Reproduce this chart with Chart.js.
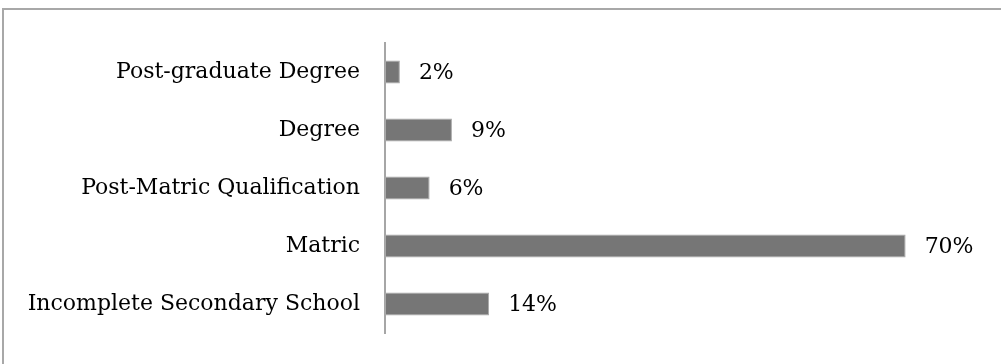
<!DOCTYPE html>
<html>
<head>
<meta charset="utf-8">
<script src="https://cdn.jsdelivr.net/npm/chart.js@4/dist/chart.umd.min.js"></script>
<style>
  html, body { margin: 0; padding: 0; background: #fff; }
  #wrap { position: relative; width: 1001px; height: 364px; overflow: hidden; }
  #frame { position: absolute; left: 2px; top: 8px; width: 1100px; height: 500px;
           border-top: 2px solid #a8a8a8; border-left: 2px solid #a8a8a8; box-sizing: border-box; }
  canvas { position: absolute; left: 0; top: 0; }
</style>
</head>
<body>
<div id="wrap">
  <div id="frame"></div>
  <canvas id="eduChart" width="1001" height="364"></canvas>
</div>
<script>
// education levels, top to bottom
const levels = [
  'Post-graduate Degree',
  'Degree',
  'Post-Matric Qualification',
  'Matric',
  'Incomplete Secondary School'
];
const shares = [2, 9, 6, 70, 14];
const shareLabels = ['2%', '9%', '6%', '70%', '14%'];

const FONT = "'DejaVu Serif', serif";

// writes the percentage just past the end of each bar
const valueLabels = {
  id: 'valueLabels',
  afterDatasetsDraw(chart) {
    const c = chart.ctx;
    const meta = chart.getDatasetMeta(0);
    c.save();
    c.font = '22px ' + FONT;
    c.fillStyle = '#000';
    c.textBaseline = 'middle';
    c.textAlign = 'left';
    meta.data.forEach((bar, i) => {
      c.fillText(shareLabels[i], bar.x + 19, bar.y + 1);
    });
    c.restore();
  }
};

const ctx = document.getElementById('eduChart').getContext('2d');
const chart = new Chart(ctx, {
  type: 'bar',
  data: {
    labels: levels,
    datasets: [{
      data: shares,
      backgroundColor: '#767676',
      borderColor: '#a9a9a9',
      borderWidth: 1,
      borderSkipped: false,
      categoryPercentage: 1,
      barPercentage: 0.4
    }]
  },
  options: {
    indexAxis: 'y',
    responsive: false,
    animation: false,
    layout: { padding: { left: 0, right: 21, top: 43, bottom: 31 } },
    plugins: { legend: { display: false }, tooltip: { enabled: false } },
    scales: {
      x: { display: false, min: 0, max: 80 },
      y: {
        afterFit: s => { s.width = 385; },
        // invisible tick marks keep the labels clear of the axis line
        grid: { color: 'rgba(0,0,0,0)', drawTicks: true, tickLength: 15 },
        border: { display: true, color: '#a6a6a6', width: 2 },
        ticks: { padding: 10, color: '#000', font: { family: FONT, size: 22 } }
      }
    }
  },
  plugins: [valueLabels]
});
</script>
</body>
</html>
